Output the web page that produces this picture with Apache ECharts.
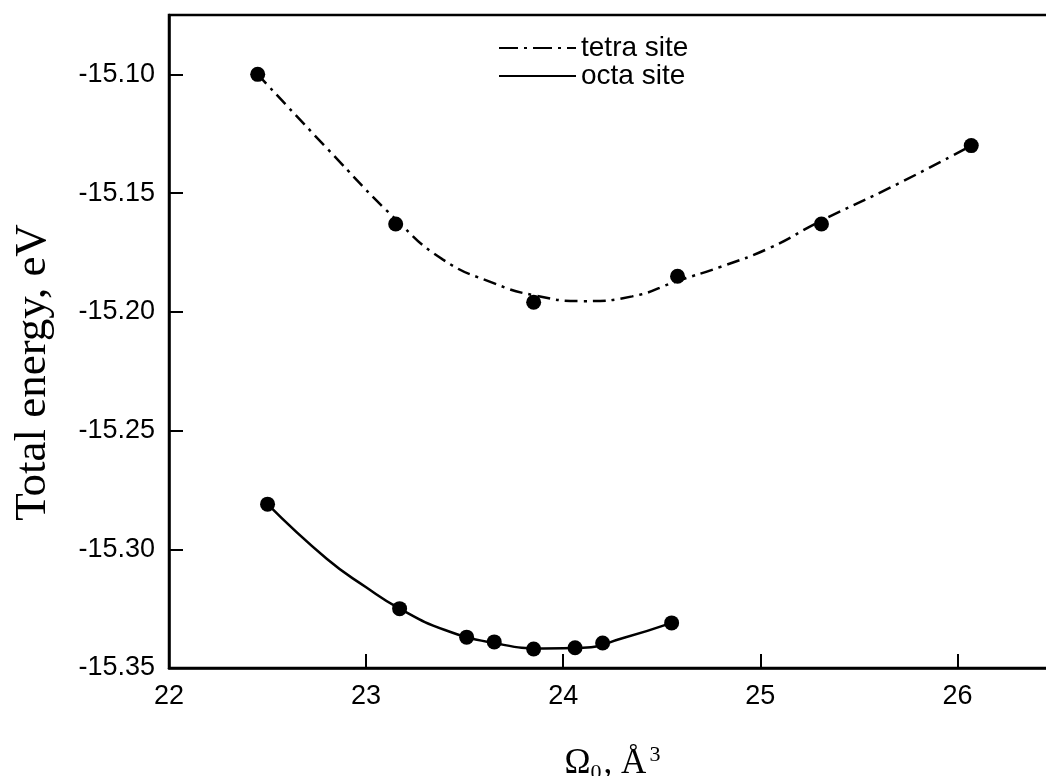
<!DOCTYPE html>
<html>
<head>
<meta charset="utf-8">
<script src="https://cdn.jsdelivr.net/npm/echarts@6/dist/echarts.min.js"></script>
<style>
html,body{margin:0;padding:0;background:#fff;}
#chart{width:1046px;height:776px;}
</style>
</head>
<body>
<div id="chart"></div>
<script>
// Measured points
const tetraX = [22.45, 23.15, 23.85, 24.58, 25.31, 26.07];
const tetraY = [-15.100, -15.163, -15.196, -15.185, -15.163, -15.130];
const octaX = [22.50, 23.17, 23.51, 23.65, 23.85, 24.06, 24.20, 24.55];
const octaY = [-15.281, -15.325, -15.337, -15.339, -15.342, -15.3415, -15.3395, -15.331];
// Fitted curves
const tetraFitX = [22.45, 22.8, 23.15, 23.39, 23.65, 23.85, 24.1, 24.35, 24.58, 24.8, 25.05, 25.3, 25.7, 26.07];
const tetraFitY = [-15.100, -15.131, -15.161, -15.178, -15.188, -15.193, -15.1955, -15.1935, -15.187, -15.181, -15.173, -15.162, -15.146, -15.130];
const octaFitX = [22.50, 22.8, 23.0, 23.17, 23.4, 23.65, 23.9, 24.1, 24.3, 24.55];
const octaFitY = [-15.281, -15.304, -15.316, -15.325, -15.334, -15.3395, -15.3418, -15.3415, -15.3375, -15.331];
const seriesNames = ['tetra site', 'octa site'];
const xTicks = [22, 23, 24, 25, 26];
const yTicks = [-15.35, -15.30, -15.25, -15.20, -15.15, -15.10];

const zip = (xs, ys) => xs.map((x, i) => [x, ys[i]]);
const sans = 'Liberation Sans';
const serif = 'Liberation Serif';

const chart = echarts.init(document.getElementById('chart'), null, {renderer: 'canvas'});
chart.setOption({
  animation: false,
  backgroundColor: '#fff',
  grid: {left: 169, top: 15, bottom: 108, right: -10, show: true, borderColor: '#000', borderWidth: 2.5,
    containLabel: false, outerBoundsMode: 'none'},
  legend: {
    orient: 'vertical', left: 493, top: 29,
    data: [
      {name: seriesNames[0], lineStyle: {type: [19, 6, 3, 6]}},
      {name: seriesNames[1]}
    ],
    itemWidth: 77, itemHeight: 14, itemGap: 0,
    itemStyle: {opacity: 0},
    textStyle: {fontFamily: sans, fontSize: 28, lineHeight: 27, color: '#000'}
  },
  xAxis: {
    type: 'value', min: xTicks[0], max: 26.5, interval: 1,
    axisLine: {lineStyle: {color: '#000', width: 2.5}},
    axisTick: {inside: true, length: 14, lineStyle: {color: '#000', width: 2}},
    axisLabel: {showMaxLabel: false, margin: 15, fontFamily: sans, fontSize: 27, color: '#000',
      formatter: v => xTicks.includes(v) ? String(v) : ''},
    splitLine: {show: false},
    name: '{a|Ω}{sub|0}{a|, Å}{sup|3}',
    nameLocation: 'middle', nameGap: 76,
    nameTextStyle: {
      rich: {
        a: {fontFamily: serif, fontSize: 35, color: '#000', lineHeight: 40},
        sub: {fontFamily: serif, fontSize: 22, color: '#000', verticalAlign: 'bottom', lineHeight: 22, padding: [16, 2, 0, 0]},
        sup: {fontFamily: serif, fontSize: 22, color: '#000', verticalAlign: 'top', lineHeight: 22, padding: [0, 0, 18, 3]}
      }
    }
  },
  yAxis: {
    type: 'value', min: yTicks[0], max: -15.075, interval: 0.05,
    axisLine: {lineStyle: {color: '#000', width: 2.5}},
    axisTick: {inside: true, length: 14, lineStyle: {color: '#000', width: 2}},
    axisLabel: {showMaxLabel: false, margin: 14, fontFamily: sans, fontSize: 27, color: '#000',
      formatter: v => v.toFixed(2)},
    splitLine: {show: false},
    name: 'Total energy, eV', nameLocation: 'middle', nameGap: 113,
    nameTextStyle: {fontFamily: serif, fontSize: 45, color: '#000', padding: [0, 62, 0, 0]}
  },
  series: [
    {
      name: seriesNames[0], type: 'line', smooth: true, symbol: 'none',
      data: zip(tetraFitX, tetraFitY),
      lineStyle: {color: '#000', width: 2.5, type: [13, 6, 3, 6]},
      itemStyle: {color: '#000'}, z: 2
    },
    {
      name: seriesNames[1], type: 'line', smooth: true, symbol: 'none',
      data: zip(octaFitX, octaFitY),
      lineStyle: {color: '#000', width: 2.5, type: 'solid'},
      itemStyle: {color: '#000'}, z: 2
    },
    {
      name: 'tetra points', type: 'scatter', symbol: 'circle', symbolSize: 15,
      data: zip(tetraX, tetraY), itemStyle: {color: '#000', opacity: 1}, z: 3
    },
    {
      name: 'octa points', type: 'scatter', symbol: 'circle', symbolSize: 15,
      data: zip(octaX, octaY), itemStyle: {color: '#000', opacity: 1}, z: 3
    }
  ]
});
</script>
</body>
</html>
